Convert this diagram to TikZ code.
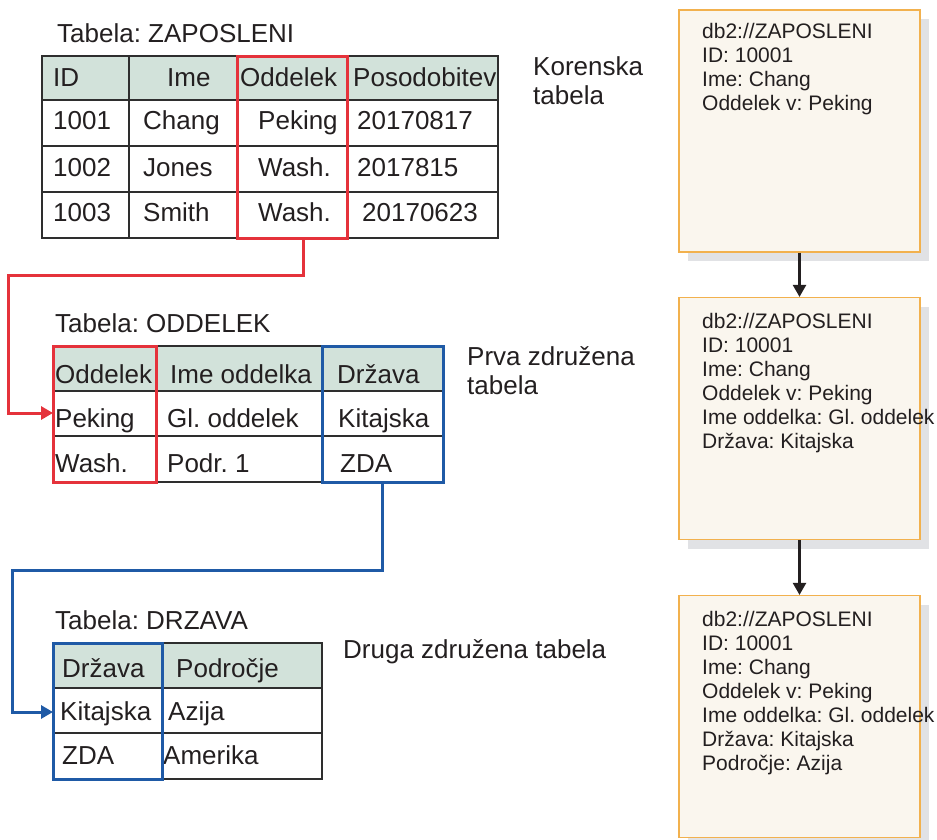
\documentclass[tikz,border=0pt]{standalone}
\usepackage{fontspec}
\setmainfont{Liberation Sans}
\usetikzlibrary{arrows.meta,shadows}
\definecolor{txt}{HTML}{231F20}
\definecolor{hdr}{HTML}{D2E2DA}
\definecolor{redc}{HTML}{E5323B}
\definecolor{bluec}{HTML}{1F5AA6}
\definecolor{boxfill}{HTML}{FAF6EE}
\definecolor{boxline}{HTML}{F2B14E}
\definecolor{shadowc}{HTML}{E1E2E5}
\definecolor{gridc}{HTML}{2E2E2E}
\frenchspacing
\begin{document}
\frenchspacing
\begin{tikzpicture}[x=1pt,y=-1pt,
  cell/.style={anchor=base west, inner sep=0pt, text=txt, font=\frenchspacing\fontsize{26}{30}\selectfont},
  rec/.style={anchor=base west, inner sep=0pt, text=txt, font=\frenchspacing\fontsize{21}{24}\selectfont},
  tline/.style={draw=gridc, line width=1.3pt},
  redbox/.style={draw=redc, line width=3pt, inner sep=0pt},
  bluebox/.style={draw=bluec, line width=3pt, inner sep=0pt},
  redline/.style={draw=redc, line width=3pt},
  blueline/.style={draw=bluec, line width=3pt},
  tip/.style={-{Triangle[length=12pt,width=13pt]}},
  recbox/.style={draw=boxline, fill=boxfill, line width=1.2pt, inner sep=0pt,
    minimum width=241pt, minimum height=242pt,
    drop shadow={shadow xshift=9pt, shadow yshift=-9pt, fill=shadowc, opacity=1}},
  flow/.style={draw=txt, line width=2.4pt, -{Triangle[length=12pt,width=13pt]}}
]
\useasboundingbox (0,0) rectangle (937,840);

% ---------- Table ZAPOSLENI ----------
\node[cell] (cap1) at (57,43) {Tabela: ZAPOSLENI};
\fill[hdr] (42,56) rectangle (498,100);
\draw[tline] (42,56) rectangle (498,238);
\foreach \y in {100,146,192} \draw[tline] (42,\y) -- (498,\y);
\foreach \x in {129,237,347} \draw[tline] (\x,56) -- (\x,238);
\node[cell] (a11) at (53,87) {ID};
\node[cell] (a12) at (167,87) {Ime};
\node[cell] (a13) at (240,87) {Oddelek};
\node[cell] (a14) at (353,87) {Posodobitev};
\node[cell] (a21) at (53,130) {1001};
\node[cell] (a22) at (143,130) {Chang};
\node[cell] (a23) at (258,130) {Peking};
\node[cell] (a24) at (357,130) {20170817};
\node[cell] (a31) at (53,176) {1002};
\node[cell] (a32) at (143,176) {Jones};
\node[cell] (a33) at (258,176) {Wash.};
\node[cell] (a34) at (357,176) {2017815};
\node[cell] (a41) at (53,221) {1003};
\node[cell] (a42) at (143,221) {Smith};
\node[cell] (a43) at (258,221) {Wash.};
\node[cell] (a44) at (362,221) {20170623};
\node[redbox, minimum width=110pt, minimum height=182pt] (redA) at (292,147.5) {};
\node[cell] (lab1a) at (533,76) {Korenska};
\node[cell] (lab1b) at (533,105) {tabela};

% ---------- Table ODDELEK ----------
\node[cell] (cap2) at (55,332) {Tabela: ODDELEK};
\fill[hdr] (53,346) rectangle (443,391);
\draw[tline] (53,346) rectangle (443,482);
\foreach \y in {391,436} \draw[tline] (53,\y) -- (443,\y);
\foreach \x in {156,322} \draw[tline] (\x,346) -- (\x,482);
\node[cell] (b11) at (55,383) {Oddelek};
\node[cell] (b12) at (170,383) {Ime oddelka};
\node[cell] (b13) at (337,383) {Država};
\node[cell] (b21) at (55,427) {Peking};
\node[cell] (b22) at (167,427) {Gl. oddelek};
\node[cell] (b23) at (338,427) {Kitajska};
\node[cell] (b31) at (55,472) {Wash.};
\node[cell] (b32) at (167,472) {Podr. 1};
\node[cell] (b33) at (340,472) {ZDA};
\node[redbox, minimum width=103pt, minimum height=136pt] (redB) at (104.5,414) {};
\node[bluebox, minimum width=121pt, minimum height=136pt] (blueA) at (382.5,414) {};
\node[cell] (lab2a) at (467,365) {Prva združena};
\node[cell] (lab2b) at (467,394) {tabela};

% ---------- Table DRZAVA ----------
\node[cell] (cap3) at (55,629) {Tabela: DRZAVA};
\fill[hdr] (53,643) rectangle (322,688);
\draw[tline] (53,643) rectangle (322,779);
\foreach \y in {688,733} \draw[tline] (53,\y) -- (322,\y);
\draw[tline] (162,643) -- (162,779);
\node[cell] (c11) at (62,677) {Država};
\node[cell] (c12) at (176,677) {Področje};
\node[cell] (c21) at (60,720) {Kitajska};
\node[cell] (c22) at (168,720) {Azija};
\node[cell] (c31) at (62,764) {ZDA};
\node[cell] (c32) at (163,764) {Amerika};
\node[bluebox, minimum width=109pt, minimum height=136pt] (blueB) at (107.5,711) {};
\node[cell] (lab3) at (343,658) {Druga združena tabela};

% ---------- connectors ----------
\coordinate (rA) at (303,275);
\coordinate (rB) at (8,275);
\coordinate (rIn) at (53,413);
\draw[redline,tip] (redA.south -| rA) -- (rA) -- (rB) |- (rIn);
\coordinate (bA) at (382.5,570);
\coordinate (bB) at (12,570);
\coordinate (bIn) at (53,712);
\draw[blueline,tip] (blueA.south) -- (bA) -- (bB) |- (bIn);

% ---------- record boxes ----------
\node[recbox] (r1) at (799.5,131) {};
\node[recbox] (r2) at (799.5,418.5) {};
\node[recbox] (r3) at (799.5,716.5) {};
\draw[flow] (r1.south) -- (r2.north);
\draw[flow] (r2.south) -- (r3.north);

\foreach \t [count=\i] in {db2://ZAPOSLENI, ID: 10001, Ime: Chang, Oddelek v: Peking}
  \node[rec] (p\i) at (702,{39+24*(\i-1)}) {\t};
\foreach \t [count=\i] in {db2://ZAPOSLENI, ID: 10001, Ime: Chang, Oddelek v: Peking, Ime oddelka: Gl. oddelek, Država: Kitajska}
  \node[rec] (q\i) at (702,{328+24*(\i-1)}) {\t};
\foreach \t [count=\i] in {db2://ZAPOSLENI, ID: 10001, Ime: Chang, Oddelek v: Peking, Ime oddelka: Gl. oddelek, Država: Kitajska, Področje: Azija}
  \node[rec] (s\i) at (702,{626+24*(\i-1)}) {\t};
\end{tikzpicture}
\end{document}
